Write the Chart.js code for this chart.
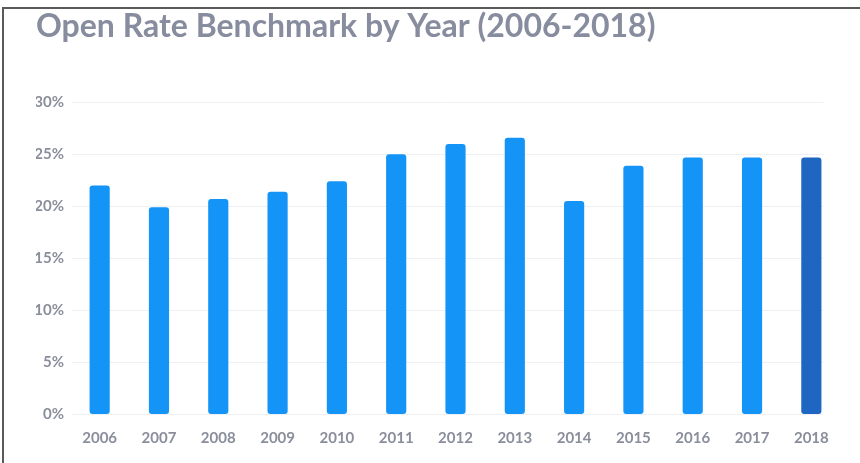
<!DOCTYPE html>
<html>
<head>
<meta charset="utf-8">
<script src="https://cdn.jsdelivr.net/npm/chart.js@4/dist/chart.umd.min.js"></script>
<style>
  html, body { margin: 0; padding: 0; background: #fff; }
  #wrap { position: relative; width: 860px; height: 463px; overflow: hidden; }
  #frame { position: absolute; left: 2px; top: 7px; right: -10px; bottom: -10px;
           border-top: 2px solid #5a5a5a; border-left: 2px solid #5a5a5a; }
  canvas { position: absolute; left: 0; top: 0; }
</style>
</head>
<body>
<div id="wrap">
  <div id="frame"></div>
  <canvas id="c" width="860" height="463"></canvas>
</div>
<script>
const titleText = 'Open Rate Benchmark by Year (2006-2018)';
const years = ['2006','2007','2008','2009','2010','2011','2012','2013','2014','2015','2016','2017','2018'];
const openRates = [22.0, 19.9, 20.7, 21.4, 22.4, 25.0, 26.0, 26.6, 20.5, 23.9, 24.7, 24.7, 24.7];
const barColors = ['#1494f6','#1494f6','#1494f6','#1494f6','#1494f6','#1494f6','#1494f6','#1494f6','#1494f6','#1494f6','#1494f6','#1494f6','#1f66c2'];
const yTicks = [0, 5, 10, 15, 20, 25, 30];

const gridPlugin = {
  id: 'customGrid',
  beforeDatasetsDraw(chart) {
    const ctx = chart.ctx;
    const y = chart.scales.y;
    const meta = chart.getDatasetMeta(0);
    const last = meta.data[meta.data.length - 1];
    const right = last.x + last.width / 2 + 2;
    const left = chart.chartArea.left + 2;
    ctx.save();
    ctx.strokeStyle = '#eef0f4';
    ctx.lineWidth = 1;
    yTicks.forEach(v => {
      const py = Math.round(y.getPixelForValue(v)) + 0.5;
      ctx.beginPath();
      ctx.moveTo(left, py);
      ctx.lineTo(right, py);
      ctx.stroke();
    });
    ctx.restore();
  }
};

new Chart(document.getElementById('c'), {
  type: 'bar',
  data: {
    labels: years,
    datasets: [{
      data: openRates,
      backgroundColor: barColors,
      borderRadius: 3,
      borderSkipped: false,
      barPercentage: 0.68,
      categoryPercentage: 0.5
    }]
  },
  options: {
    responsive: false,
    animation: false,
    devicePixelRatio: 1,
    layout: { padding: { left: 36, right: 19, top: 0, bottom: 0 } },
    plugins: {
      legend: { display: false },
      tooltip: { enabled: false },
      title: {
        display: true,
        text: titleText,
        align: 'start',
        color: '#878c9e',
        font: { family: 'Lato', size: 32, weight: 'bold', lineHeight: 1.2 },
        padding: { top: 7, bottom: 57 }
      }
    },
    scales: {
      x: {
        grid: { display: false, drawTicks: false },
        border: { display: false },
        ticks: { color: '#8a8e9c', font: { family: 'Lato', size: 15, weight: 'bold' }, padding: 15, maxRotation: 0 },
        afterFit(s) { s.height = 49; }
      },
      y: {
        min: 0, max: 30,
        grid: { display: false, drawTicks: false },
        border: { display: false },
        afterBuildTicks(s) { s.ticks = yTicks.map(v => ({ value: v })); },
        ticks: { color: '#8a8e9c', font: { family: 'Lato', size: 15, weight: 'bold' }, padding: 6,
                 callback: v => v + '%' },
        afterFit(s) { s.width = 34; }
      }
    }
  },
  plugins: [gridPlugin]
});
</script>
</body>
</html>
